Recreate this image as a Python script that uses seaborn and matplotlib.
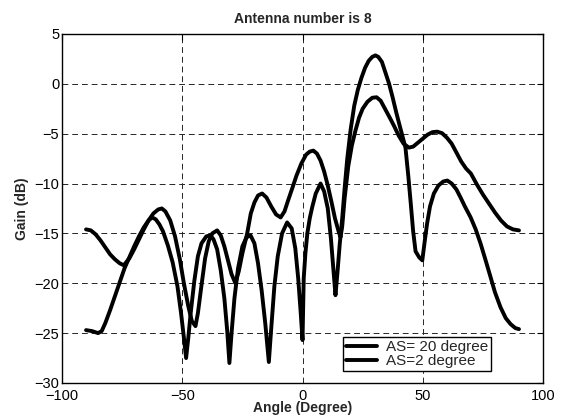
import pandas as pd
import matplotlib
matplotlib.use("Agg")
import matplotlib.pyplot as plt
import seaborn as sns

# AS = 20 degree (smoother curve)
angle_as20 = [-90, -88, -86, -84, -82, -80, -78, -76, -74.3, -72, -70, -68, -66, -64, -62, -60,
              -58.5, -57, -55, -53, -51, -49.4, -47.5, -46, -44.5, -43.5, -42, -40.5, -39, -37.5,
              -35.5, -34, -32.5, -31, -29.5, -27.9, -26.5, -25, -23, -21.5, -20, -18.5, -16.8,
              -15, -13, -11, -9.1, -7.5, -6, -4.3, -2.5, -0.5, 1.5, 3, 4.5, 6, 7.5, 9, 10.5, 12,
              13.5, 15, 15.8, 16.5, 17.5, 19, 20.5, 22, 23.5, 25, 27, 29, 30.8, 32.5, 34.5, 36.5,
              38, 40, 42, 44.2, 46, 48, 50, 52, 54, 56, 58, 60, 62, 64, 66, 68, 70, 72.5, 75,
              77.5, 80, 82.5, 85, 87.5, 90]
gain_as20 = [-14.6, -14.7, -15.1, -15.7, -16.4, -17.1, -17.6, -18.0, -18.2, -17.5, -16.6, -15.6,
             -14.6, -13.7, -13.0, -12.6, -12.5, -12.8, -13.7, -15.3, -17.6, -19.9, -22.3, -23.8,
             -24.3, -23.0, -20.2, -17.5, -15.8, -15.0, -14.7, -15.2, -16.3, -17.7, -19.1, -20.0,
             -18.8, -17.0, -15.0, -13.0, -11.9, -11.2, -11.0, -11.4, -12.3, -13.1, -13.4, -12.8,
             -11.7, -10.5, -9.2, -8.0, -7.1, -6.8, -6.7, -7.0, -7.7, -8.8, -10.2, -11.8, -13.5,
             -14.8, -15.4, -14.3, -11.5, -8.3, -6.2, -4.7, -3.4, -2.5, -1.8, -1.4, -1.35, -1.7,
             -2.6, -3.5, -4.2, -5.2, -6.0, -6.4, -6.3, -5.9, -5.5, -5.1, -4.85, -4.8, -4.95,
             -5.4, -6.0, -6.9, -7.8, -8.5, -9.0, -10.1, -11.1, -12.0, -12.9, -13.7, -14.3,
             -14.6, -14.7]

# AS = 2 degree (deep nulls)
angle_as2 = [-90, -87.5, -85, -83.5, -82, -80, -78, -76, -74, -72, -70, -68, -66, -64, -62.5,
             -61, -59.5, -58, -56, -54, -52, -50.5, -49.3, -48.4, -47.5, -46.5, -45, -43.5, -42,
             -40, -38.3, -37, -35.5, -34, -32.5, -31.3, -30.4, -29.5, -28.3, -26.8, -25, -23.3,
             -21.6, -20, -18.5, -17, -15.5, -14, -13, -11.7, -10.3, -8.5, -6.4, -4.5, -3, -1.8,
             -0.8, 0, 0.5, 1.2, 2, 3, 4, 5.5, 7.5, 9, 10.5, 11.8, 12.8, 13.7, 14.5, 15.5, 16.5,
             17.5, 18.6, 20, 21.5, 23, 24.5, 26, 27.5, 29, 30.3, 31.5, 33, 34.5, 36, 37.5, 39,
             40.5, 41.5, 42.8, 44, 45, 46, 47, 48.5, 49.8, 50.8, 51.8, 53, 54.6, 56.5, 58.5, 60.2,
             62, 64, 65.7, 67.5, 69.9, 72, 74, 76, 78.2, 80, 82.3, 84.5, 86.5, 88.5, 90]
gain_as2 = [-24.7, -24.8, -25.0, -24.8, -24.0, -22.7, -21.3, -19.9, -18.5, -17.4, -16.3, -15.3,
            -14.4, -13.7, -13.4, -13.6, -14.1, -14.8, -16.2, -17.9, -20.3, -23.0, -25.5, -27.5,
            -25.5, -23.0, -19.8, -17.3, -16.0, -15.3, -15.2, -15.6, -16.6, -18.7, -21.5, -24.8,
            -28.0, -25.0, -21.5, -18.5, -16.3, -15.4, -15.2, -16.0, -18.0, -20.7, -24.0, -27.9,
            -24.5, -20.3, -17.3, -15.0, -13.9, -14.5, -16.5, -19.5, -22.8, -25.7, -19.5, -17.0,
            -15.0, -13.5, -12.4, -11.0, -10.0, -10.8, -12.5, -15.5, -18.5, -21.2, -19.0, -16.0,
            -13.5, -10.5, -7.5, -4.6, -2.2, -0.6, 0.6, 1.6, 2.3, 2.7, 2.85, 2.7, 2.2, 1.1, 0.0,
            -1.4, -2.9, -4.3, -5.2, -6.4, -9.3, -12.0, -14.8, -16.8, -17.4, -17.7, -15.8, -14.0,
            -12.3, -11.0, -10.2, -9.8, -9.7, -10.0, -10.6, -11.4, -12.3, -13.4, -14.6, -16.0,
            -17.6, -19.4, -20.9, -22.4, -23.5, -24.1, -24.5, -24.6]

df20 = pd.DataFrame({"angle": angle_as20, "gain": gain_as20})
df2 = pd.DataFrame({"angle": angle_as2, "gain": gain_as2})

sns.set_style("white")
plt.rcParams["font.family"] = ["Liberation Sans", "DejaVu Sans"]

fig = plt.figure(figsize=(5.61, 4.19), dpi=100)
ax = fig.add_axes([0.1105, 0.086, 0.8575, 0.833])

line_kw = dict(color="black", lw=2.8, sort=False, estimator=None,
               solid_joinstyle="round", solid_capstyle="round")
sns.lineplot(data=df20, x="angle", y="gain", ax=ax, label="AS= 20 degree", **line_kw)
sns.lineplot(data=df2, x="angle", y="gain", ax=ax, label="AS=2 degree", **line_kw)

ax.set_xlim(-100, 100)
ax.set_ylim(-30, 5)
ax.set_xticks([-100, -50, 0, 50, 100])
ax.set_yticks(range(-30, 6, 5))
ax.grid(True, color="0.15", linestyle=(0, (6, 4)), lw=0.7)
ax.tick_params(direction="in", top=True, right=True, length=4, width=0.8,
               labelsize=10.5, colors="black", pad=2)
ax.tick_params(axis="x", pad=4)
for s in ax.spines.values():
    s.set_color("black")
    s.set_linewidth(1)

ax.set_title("Antenna number is 8", fontsize=10, fontweight="bold", pad=8)
ax.set_xlabel("Angle (Degree)", fontsize=10, fontweight="bold", labelpad=-1)
ax.set_ylabel("Gain (dB)", fontsize=10, fontweight="bold", labelpad=4)

leg = ax.legend(loc="lower left", bbox_to_anchor=(0.584, 0.034), borderaxespad=0,
                fontsize=11, handlelength=2.0, handletextpad=0.6, labelspacing=0.0,
                borderpad=0.2, fancybox=False, framealpha=1, edgecolor="black")
leg.get_frame().set_linewidth(1)

fig.savefig("out.png", dpi=100)
